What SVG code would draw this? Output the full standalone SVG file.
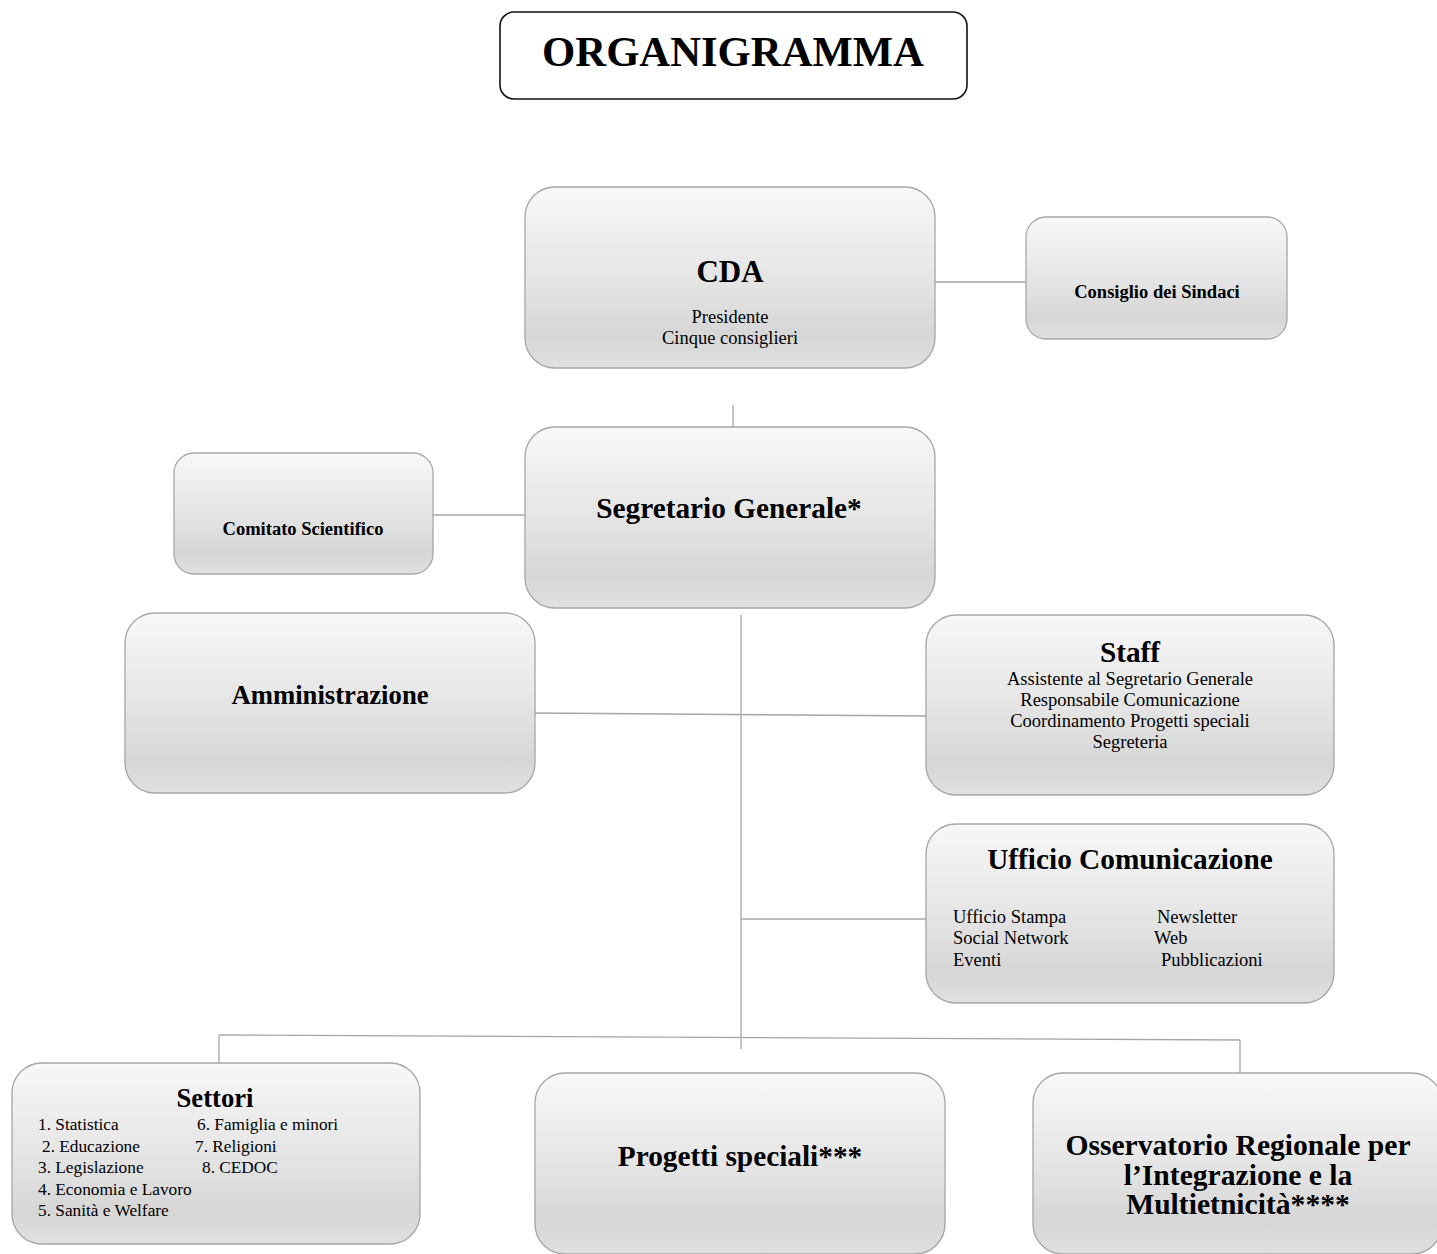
<svg xmlns="http://www.w3.org/2000/svg" width="1437" height="1254" viewBox="0 0 1437 1254">
<style>
.box{fill:url(#g);stroke:#a6a6a6;stroke-width:1.3}
.ln{stroke:#a6a6a6;stroke-width:1.3;fill:none}
text{font-family:"Liberation Serif","Times New Roman",serif;fill:#000}
.h{font-weight:bold;font-size:29.3px;text-anchor:middle}
.h2{font-weight:bold;font-size:26.7px;text-anchor:middle}
.s{font-weight:bold;font-size:18.5px;text-anchor:middle}
.t{font-size:18.5px}
.c{text-anchor:middle}
.l{font-size:17.3px}
</style>
<defs>
<linearGradient id="g" x1="0" y1="0" x2="0" y2="1">
<stop offset="0" stop-color="#f8f8f8"/>
<stop offset="0.55" stop-color="#e3e3e3"/>
<stop offset="0.82" stop-color="#d6d6d6"/>
<stop offset="1" stop-color="#e0e0e0"/>
</linearGradient>
</defs>
<rect width="1437" height="1254" fill="#fff"/>
<g id="title">
<rect x="500" y="12" width="467" height="87" rx="14" fill="#fff" stroke="#111" stroke-width="1.6"/>
<text x="733" y="66" style="font-weight:bold;font-size:42.7px;text-anchor:middle">ORGANIGRAMMA</text>
</g>
<g id="connectors">
<line class="ln" x1="935" y1="282" x2="1026" y2="282"/>
<line class="ln" x1="733" y1="405" x2="733" y2="427"/>
<line class="ln" x1="433" y1="515" x2="525" y2="515"/>
<line class="ln" x1="741" y1="615" x2="741" y2="1049"/>
<line class="ln" x1="535" y1="713" x2="926" y2="716"/>
<line class="ln" x1="741" y1="919" x2="926" y2="919"/>
<line class="ln" x1="219" y1="1035" x2="1240" y2="1040"/>
<line class="ln" x1="219" y1="1035" x2="219" y2="1063"/>
<line class="ln" x1="1240" y1="1040" x2="1240" y2="1073"/>
</g>
<g id="cda">
<rect class="box" x="525" y="187" width="410" height="181" rx="30"/>
<text class="h" x="730" y="282" style="font-size:31px">CDA</text>
<text class="t c" x="730" y="323">Presidente</text>
<text class="t c" x="730" y="344">Cinque consiglieri</text>
</g>
<g id="consiglio">
<rect class="box" x="1026" y="217" width="261" height="122" rx="20"/>
<text class="s" x="1157" y="298">Consiglio dei Sindaci</text>
</g>
<g id="segretario">
<rect class="box" x="525" y="427" width="410" height="181" rx="30"/>
<text class="h" x="729" y="518">Segretario Generale*</text>
</g>
<g id="comitato">
<rect class="box" x="174" y="453" width="259" height="121" rx="20"/>
<text class="s" x="303" y="535">Comitato Scientifico</text>
</g>
<g id="amministrazione">
<rect class="box" x="125" y="613" width="410" height="180" rx="30"/>
<text class="h2" x="330" y="704">Amministrazione</text>
</g>
<g id="staff">
<rect class="box" x="926" y="615" width="408" height="180" rx="30"/>
<text class="h" x="1130" y="662">Staff</text>
<text class="t c" x="1130" y="685">Assistente al Segretario Generale</text>
<text class="t c" x="1130" y="706">Responsabile Comunicazione</text>
<text class="t c" x="1130" y="727">Coordinamento Progetti speciali</text>
<text class="t c" x="1130" y="748">Segreteria</text>
</g>
<g id="ufficio">
<rect class="box" x="926" y="824" width="408" height="179" rx="30"/>
<text class="h" x="1130" y="869">Ufficio Comunicazione</text>
<text class="t" x="953" y="923">Ufficio Stampa</text>
<text class="t" x="953" y="944">Social Network</text>
<text class="t" x="953" y="966">Eventi</text>
<text class="t" x="1157" y="923">Newsletter</text>
<text class="t" x="1154" y="944">Web</text>
<text class="t" x="1161" y="966">Pubblicazioni</text>
</g>
<g id="settori">
<rect class="box" x="12" y="1063" width="408" height="181" rx="30"/>
<text class="h2" x="215" y="1107">Settori</text>
<text class="l" x="38" y="1130">1. Statistica</text>
<text class="l" x="42" y="1152">2. Educazione</text>
<text class="l" x="38" y="1173">3. Legislazione</text>
<text class="l" x="38" y="1195">4. Economia e Lavoro</text>
<text class="l" x="38" y="1216">5. Sanità e Welfare</text>
<text class="l" x="197" y="1130">6. Famiglia e minori</text>
<text class="l" x="195" y="1152">7. Religioni</text>
<text class="l" x="202" y="1173">8. CEDOC</text>
</g>
<g id="progetti">
<rect class="box" x="535" y="1073" width="410" height="181" rx="30"/>
<text class="h" x="740" y="1166">Progetti speciali***</text>
</g>
<g id="osservatorio">
<rect class="box" x="1033" y="1073" width="409" height="181" rx="30"/>
<text class="h" x="1238" y="1155" style="font-size:29.6px">Osservatorio Regionale per</text>
<text class="h" x="1238" y="1185" style="font-size:29.6px">l’Integrazione e la</text>
<text class="h" x="1238" y="1214" style="font-size:29.6px">Multietnicità****</text>
</g>
</svg>
